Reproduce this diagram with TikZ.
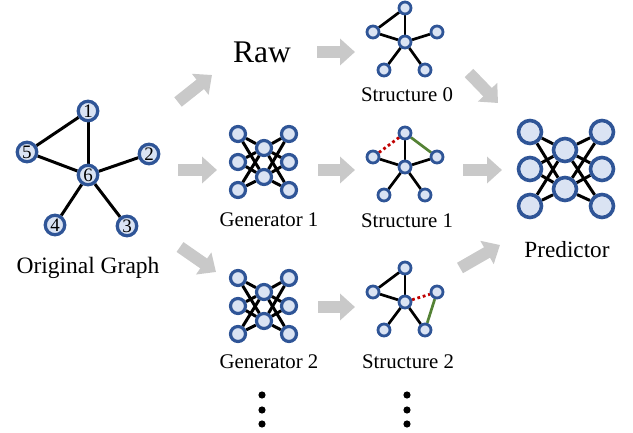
\documentclass[tikz,border=0pt]{standalone}
\usepackage{fontspec}
\setmainfont{Liberation Serif}
\usetikzlibrary{arrows.meta,backgrounds}
\definecolor{nodeblue}{HTML}{2F5597}
\definecolor{nodefill}{HTML}{DAE3F3}
\definecolor{arrowgray}{HTML}{C9C9C9}
\definecolor{edgegreen}{HTML}{548235}
\definecolor{edgered}{HTML}{C00000}
\tikzset{
  gnode/.style={circle,draw=nodeblue,fill=nodefill,line width=3.3pt,minimum size=19.5pt,inner sep=0pt,font=\fontsize{19}{19}\selectfont},
  snode/.style={circle,draw=nodeblue,fill=nodefill,line width=2.8pt,minimum size=12pt,inner sep=0pt},
  nnode/.style={circle,draw=nodeblue,fill=nodefill,line width=3.2pt,minimum size=15pt,inner sep=0pt},
  pnode/.style={circle,draw=nodeblue,fill=nodefill,line width=3.6pt,minimum size=23pt,inner sep=0pt},
  gedge/.style={line width=3pt,black},
  sedge/.style={line width=2.7pt,black},
  redge/.style={line width=2.8pt,edgered,dash pattern=on 2.8pt off 2.8pt},
  ggedge/.style={line width=2.7pt,edgegreen},
  fat/.style={line width=12pt,arrowgray,-{Triangle[width=26pt,length=15pt]}},
  lbl/.style={anchor=base,inner sep=0pt,font=\fontsize{20.8}{24}\selectfont},
  biglbl/.style={anchor=base,inner sep=0pt,font=\fontsize{23.5}{26}\selectfont},
}
\begin{document}
\begin{tikzpicture}[x=1pt,y=-1pt]
\useasboundingbox (0,0) rectangle (633,433);

% ---------- original graph ----------
\node[gnode] (o1) at (88,111) {1};
\node[gnode] (o5) at (27,152) {5};
\node[gnode] (o2) at (149,154) {2};
\node[gnode] (o6) at (88,175) {6};
\node[gnode] (o4) at (55,225) {4};
\node[gnode] (o3) at (127,226) {3};
\begin{pgfonlayer}{background}
  \draw[gedge] (o1) -- (o5);
  \draw[gedge] (o1) -- (o6);
  \draw[gedge] (o5) -- (o6);
  \draw[gedge] (o6) -- (o2);
  \draw[gedge] (o6) -- (o4);
  \draw[gedge] (o6) -- (o3);
\end{pgfonlayer}
\node[biglbl] (lorig) at (88,274) {Original Graph};

% ---------- structures ----------
\foreach \k/\dy in {0/0,1/125,2/260}{
  \begin{scope}[shift={(0,\dy)}]
    \node[snode] (s\k t) at (405,8) {};
    \node[snode] (s\k l) at (373,32) {};
    \node[snode] (s\k c) at (405,42) {};
    \node[snode] (s\k r) at (437,32) {};
    \node[snode] (s\k a) at (384,70) {};
    \node[snode] (s\k b) at (425,70) {};
  \end{scope}
}
\begin{pgfonlayer}{background}
  % structure 0
  \draw[sedge] (s0t) -- (s0l);
  \draw[sedge] (s0t) -- (s0c);
  \draw[sedge] (s0l) -- (s0c);
  \draw[sedge] (s0c) -- (s0r);
  \draw[sedge] (s0c) -- (s0a);
  \draw[sedge] (s0c) -- (s0b);
  % structure 1
  \draw[redge] (s1t) -- (s1l);
  \draw[ggedge] (s1t) -- (s1r);
  \draw[sedge] (s1t) -- (s1c);
  \draw[sedge] (s1l) -- (s1c);
  \draw[sedge] (s1c) -- (s1r);
  \draw[sedge] (s1c) -- (s1a);
  \draw[sedge] (s1c) -- (s1b);
  % structure 2
  \draw[sedge] (s2t) -- (s2l);
  \draw[sedge] (s2t) -- (s2c);
  \draw[sedge] (s2l) -- (s2c);
  \draw[redge] (s2c) -- (s2r);
  \draw[ggedge] (s2r) -- (s2b);
  \draw[sedge] (s2c) -- (s2a);
  \draw[sedge] (s2c) -- (s2b);
\end{pgfonlayer}
\node[lbl] (ls0) at (407,102) {Structure 0};
\node[lbl] (ls1) at (407,228) {Structure 1};
\node[lbl] (ls2) at (408,368) {Structure 2};

% ---------- generators ----------
\foreach \k/\dy in {1/0,2/144}{
  \begin{scope}[shift={(0,\dy)}]
    \node[nnode] (g\k l1) at (238,134) {};
    \node[nnode] (g\k l2) at (238,162) {};
    \node[nnode] (g\k l3) at (238,190) {};
    \node[nnode] (g\k r1) at (289,134) {};
    \node[nnode] (g\k r2) at (289,162) {};
    \node[nnode] (g\k r3) at (289,190) {};
    \node[nnode] (g\k m1) at (264,148) {};
    \node[nnode] (g\k m2) at (264,177) {};
  \end{scope}
  \begin{pgfonlayer}{background}
    \foreach \i in {1,2,3}{
      \foreach \j in {1,2}{
        \draw[gedge] (g\k l\i) -- (g\k m\j);
        \draw[gedge] (g\k r\i) -- (g\k m\j);
      }
    }
  \end{pgfonlayer}
}
\node[lbl] (lg1) at (269,227) {Generator 1};
\node[lbl] (lg2) at (269,368) {Generator 2};

% ---------- predictor ----------
\node[pnode] (pl1) at (530,132) {};
\node[pnode] (pl2) at (530,169) {};
\node[pnode] (pl3) at (530,206) {};
\node[pnode] (pr1) at (602,132) {};
\node[pnode] (pr2) at (602,169) {};
\node[pnode] (pr3) at (602,206) {};
\node[pnode] (pm1) at (565,150) {};
\node[pnode] (pm2) at (565,189) {};
\begin{pgfonlayer}{background}
  \foreach \i in {1,2,3}{
    \foreach \j in {1,2}{
      \draw[gedge] (pl\i) -- (pm\j);
      \draw[gedge] (pr\i) -- (pm\j);
    }
  }
\end{pgfonlayer}
\node[anchor=base,inner sep=0pt,font=\fontsize{23.2}{26}\selectfont] (lp) at (567,258) {Predictor};

% ---------- Raw ----------
\node[anchor=base,inner sep=0pt,font=\fontsize{31.5}{34}\selectfont] (raw) at (262,63) {Raw};

% ---------- block arrows ----------
\coordinate (a1s) at (178,102); \coordinate (a1e) at (212,75);
\coordinate (a2s) at (178,170); \coordinate (a2e) at (217,170);
\coordinate (a3s) at (180,247); \coordinate (a3e) at (216,272);
\coordinate (a4s) at (317,52);  \coordinate (a4e) at (355,52);
\coordinate (a5s) at (318,170); \coordinate (a5e) at (355,170);
\coordinate (a6s) at (318,307); \coordinate (a6e) at (355,307);
\coordinate (a7s) at (469,73);  \coordinate (a7e) at (498,103);
\coordinate (a8s) at (463,170); \coordinate (a8e) at (502,170);
\coordinate (a9s) at (460,268); \coordinate (a9e) at (500,245);
\foreach \n in {1,...,9}{
  \draw[fat] (a\n s) -- (a\n e);
}

% ---------- ellipsis dots ----------
\foreach \x in {262,407}{
  \foreach \yy in {395,410,424}{
    \fill (\x,\yy) circle (3.6pt);
  }
}
\end{tikzpicture}
\end{document}
